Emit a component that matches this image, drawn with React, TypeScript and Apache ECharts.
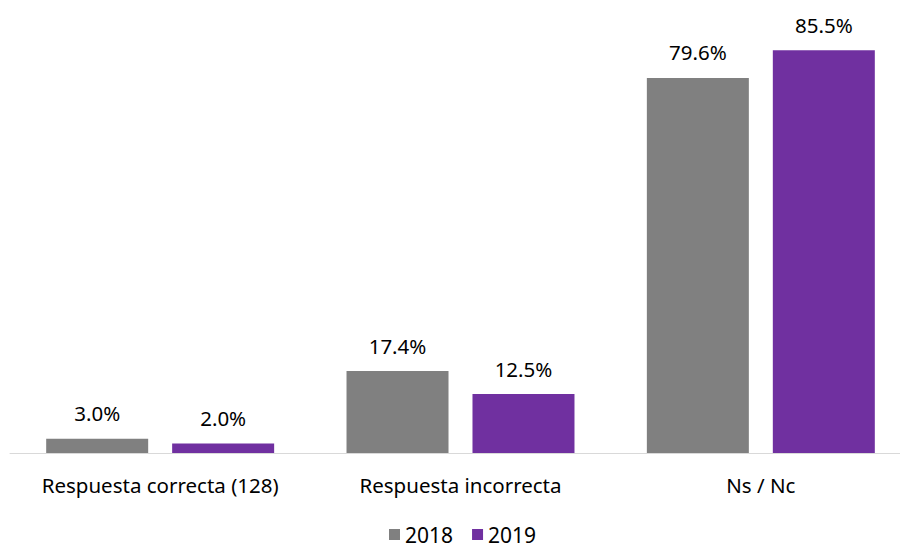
import React, { useEffect, useRef } from "react";
import * as echarts from "echarts";

const categories = ["Respuesta correcta (128)", "Respuesta incorrecta", "Ns / Nc"];
const seriesNames = ["2018", "2019"];
const values2018 = [3.0, 17.4, 79.6];
const values2019 = [2.0, 12.5, 85.5];
const colors = ["#808080", "#7030A0"];

export default function App() {
  const ref = useRef<HTMLDivElement>(null);
  useEffect(() => {
    if (!ref.current) return;
    document.body.style.margin = "0";
    document.body.style.overflow = "hidden";
    const chart = echarts.init(ref.current, null, { renderer: "svg" });
    const font = "'Noto Sans', sans-serif";
    const label = {
      show: true,
      position: "top",
      distance: 15,
      color: "#000",
      fontSize: 20.5,
      fontFamily: font,
      formatter: (p: any) => p.value.toFixed(1) + "%",
    };
    chart.setOption({
      animation: false,
      grid: { left: 10, width: 901, top: 29, height: 424, containLabel: false },
      legend: {
        top: 524,
        left: 389,
        padding: 0,
        itemWidth: 11,
        itemHeight: 11,
        itemGap: 19,
        icon: "rect",
        textStyle: { fontSize: 21, lineHeight: 18, fontFamily: font, color: "#000" },
        data: seriesNames,
      },
      xAxis: {
        type: "category",
        data: categories,
        axisLine: { lineStyle: { color: "#d9d9d9", width: 1 } },
        axisTick: { show: false },
        axisLabel: { color: "#000", fontSize: 20.5, fontFamily: font, margin: 21, interval: 0 },
      },
      yAxis: {
        type: "value",
        min: 0,
        max: 90,
        show: false,
        splitLine: { show: false },
      },
      series: [
        {
          name: seriesNames[0],
          type: "bar",
          data: values2018,
          barWidth: 102,
          barGap: "23.5%",
          itemStyle: { color: colors[0] },
          label,
        },
        {
          name: seriesNames[1],
          type: "bar",
          data: values2019,
          barWidth: 102,
          barGap: "23.5%",
          itemStyle: { color: colors[1] },
          label,
        },
      ],
    });
    return () => chart.dispose();
  }, []);
  return <div ref={ref} style={{ width: 912, height: 546 }} />;
}
